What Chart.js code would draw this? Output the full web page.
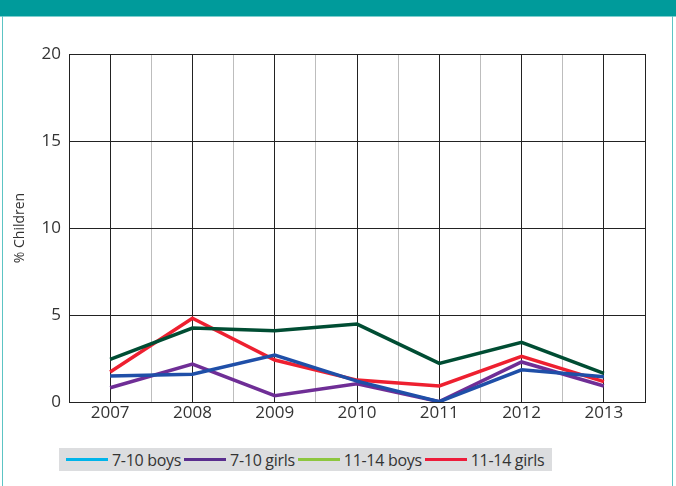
<!DOCTYPE html>
<html>
<head>
<meta charset="utf-8">
<script src="https://cdn.jsdelivr.net/npm/chart.js@4/dist/chart.umd.min.js"></script>
<style>
  html, body { margin: 0; padding: 0; background: #fff; }
  #wrap { position: relative; width: 676px; height: 486px; overflow: hidden; font-family: "Open Sans", sans-serif; }
  #head { position: absolute; left: 0; top: 0; width: 676px; height: 16px; background: #009b9b; border-bottom: 1px solid #7fcfcf; }
  #lb { position: absolute; left: 2px; top: 16px; width: 1px; height: 470px; background: #5cc4c4; }
  #rb { position: absolute; left: 672px; top: 16px; width: 1px; height: 470px; background: #5cc4c4; }
  canvas { position: absolute; left: 0; top: 0; }
  #legend { position: absolute; left: 59px; top: 448px; width: 493px; height: 23px; background: #dcdddf;
            display: flex; align-items: center; font-size: 16px; letter-spacing: -0.3px; color: #333; white-space: nowrap; }
  #legend .item { display: flex; align-items: center; margin-right: 3px; }
  #legend .sw { width: 42px; height: 3px; margin-right: 4px; }
  #legend .item:first-child { margin-left: 7px; }
</style>
</head>
<body>
<div id="wrap">
  <div id="head"></div>
  <div id="lb"></div>
  <div id="rb"></div>
  <canvas id="chart" width="676" height="486"></canvas>
  <div id="legend"></div>
</div>
<script>
// Data
const years = [2007, 2008, 2009, 2010, 2011, 2012, 2013];
const boys710 = [1.5, 1.6, 2.7, 1.2, 0.02, 1.85, 1.45];
const girls710 = [0.82, 2.18, 0.36, 1.05, 0.02, 2.3, 0.92];
const boys1114 = [2.45, 4.25, 4.1, 4.48, 2.22, 3.43, 1.65];
const girls1114 = [1.72, 4.81, 2.41, 1.26, 0.92, 2.62, 1.17];
const seriesNames = ['7-10 boys', '7-10 girls', '11-14 boys', '11-14 girls'];
const yTicks = [0, 5, 10, 15, 20];

// line colours and (mismatched) legend colours as in the original
const lineColors = ['#1f4fa8', '#6f2e96', '#004d33', '#ee2030'];
const legendColors = ['#00b4ea', '#5a2e8e', '#8dc63f', '#ed1c3a'];

const toPoints = vals => years.map((yr, i) => ({ x: yr, y: vals[i] }));
const allSeries = [boys710, girls710, boys1114, girls1114];

const datasets = allSeries.map((vals, i) => ({
    label: seriesNames[i],
    data: toPoints(vals),
    borderColor: lineColors[i],
    borderWidth: 3.5,
    pointRadius: 0,
    fill: false,
    tension: 0
}));
// draw order: red on top, as in the picture
const order = [2, 0, 1, 3];

const frame = {
    id: 'frame',
    afterDatasetsDraw(chart) {
        const a = chart.chartArea, c = chart.ctx;
        c.save();
        c.strokeStyle = '#222';
        c.lineWidth = 1;
        c.strokeRect(Math.round(a.left) + 0.5, Math.round(a.top) + 0.5,
                     Math.round(a.right - a.left), Math.round(a.bottom - a.top));
        c.restore();
    }
};

const config = {
    type: 'line',
    data: { datasets: order.map(i => datasets[i]) },
    options: {
        responsive: false,
        animation: false,
        layout: { padding: { top: 54, right: 31, left: 0, bottom: 0 } },
        plugins: { legend: { display: false }, tooltip: { enabled: false } },
        scales: {
            x: {
                type: 'linear',
                min: 2006.5,
                max: 2013.5,
                afterFit: s => { s.height = 84; },
                ticks: {
                    stepSize: 0.5,
                    autoSkip: false,
                    maxRotation: 0,
                    color: '#333',
                    font: { family: 'Open Sans', size: 17 },
                    padding: 1,
                    callback: v => (v % 1 === 0 ? String(v) : '')
                },
                grid: {
                    color: ctx => (ctx.tick && ctx.tick.value % 1 === 0 ? '#222' : '#bdbdbd'),
                    lineWidth: 1,
                    drawTicks: false
                },
                border: { color: '#222' }
            },
            y: {
                min: 0,
                max: 20,
                afterFit: s => { s.width = 69; },
                afterBuildTicks: s => { s.ticks = yTicks.map(v => ({ value: v })); },
                ticks: {
                    color: '#333',
                    font: { family: 'Open Sans', size: 17 },
                    padding: 8
                },
                grid: { color: '#222', lineWidth: 1, drawTicks: false },
                border: { color: '#222' },
                title: {
                    display: true,
                    text: '% Children',
                    color: '#333',
                    font: { family: 'Open Sans', size: 14 },
                    padding: { top: 12, bottom: 0 }
                }
            }
        }
    },
    plugins: [frame]
};

const ctx = document.getElementById('chart').getContext('2d');
const chart = new Chart(ctx, config);

// legend built from the series names
const legend = document.getElementById('legend');
seriesNames.forEach((name, i) => {
    const item = document.createElement('div');
    item.className = 'item';
    const sw = document.createElement('div');
    sw.className = 'sw';
    sw.style.background = legendColors[i];
    const txt = document.createElement('span');
    txt.textContent = name;
    item.appendChild(sw);
    item.appendChild(txt);
    legend.appendChild(item);
});
</script>
</body>
</html>
